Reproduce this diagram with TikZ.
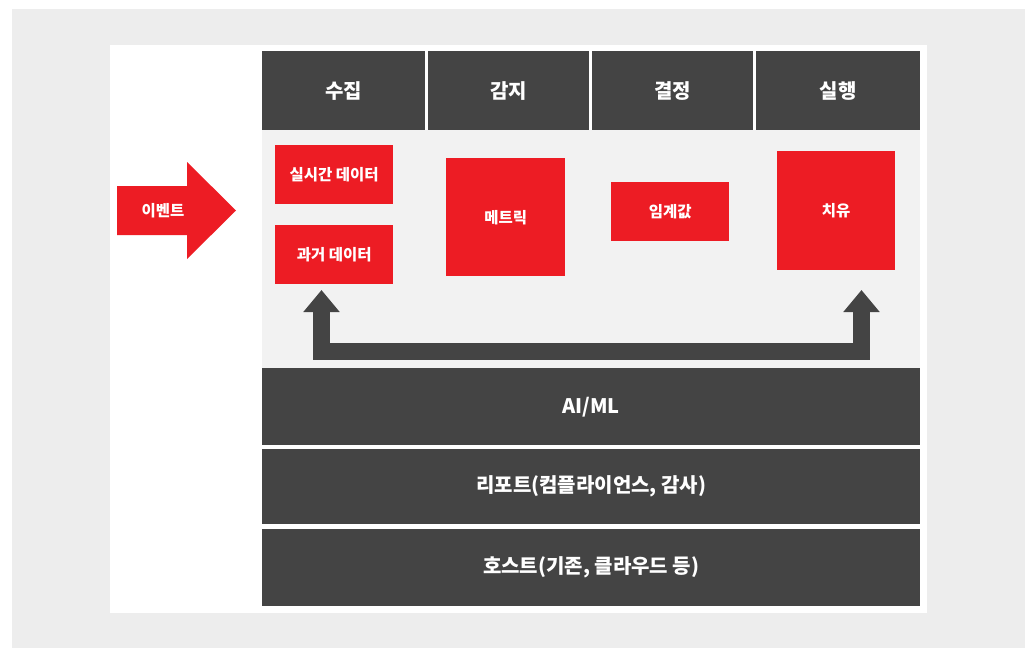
\documentclass[tikz,border=0pt]{standalone}
\usepackage{fontspec}
\setmainfont{Noto Sans CJK KR}
\usetikzlibrary{arrows.meta}
\definecolor{dark}{HTML}{444444}
\definecolor{brand}{HTML}{ED1C24}
\definecolor{outer}{HTML}{EDEDED}
\definecolor{pane}{HTML}{F2F2F2}
\tikzset{
  darkbox/.style={fill=dark,draw=none,text=white,font=\bfseries\fontsize{20}{22}\selectfont,inner sep=0,anchor=north west},
  headbox/.style={darkbox,font=\bfseries\fontsize{20}{22}\selectfont},
  redbox/.style={fill=brand,draw=none,text=white,font=\bfseries\fontsize{15.5}{18}\selectfont,inner sep=0,anchor=north west},
}
\begin{document}
\begin{tikzpicture}[x=1pt,y=-1pt]
\useasboundingbox (0,0) rectangle (1031,648);
\fill[white] (0,0) rectangle (1031,648);
\fill[outer] (12,9) rectangle (1025,648);
\fill[white] (110,45) rectangle (927,613);
\fill[pane] (262,130) rectangle (920,368);
% header
\node[headbox,minimum width=163pt,minimum height=79pt] (h1) at (262,51) {수집};
\node[headbox,minimum width=161pt,minimum height=79pt] (h2) at (428,51) {감지};
\node[headbox,minimum width=161pt,minimum height=79pt] (h3) at (592,51) {결정};
\node[headbox,minimum width=164pt,minimum height=79pt] (h4) at (756,51) {실행};
% red boxes
\node[redbox,minimum width=118pt,minimum height=59pt] (rt) at (275,145) {실시간 데이터};
\node[redbox,minimum width=118pt,minimum height=59pt] (past) at (275,225) {과거 데이터};
\node[redbox,minimum width=119pt,minimum height=118pt] (met) at (446,158) {메트릭};
\node[redbox,minimum width=118pt,minimum height=59pt] (thr) at (611,182) {임계값};
\node[redbox,minimum width=118pt,minimum height=119pt] (heal) at (777,151) {치유};
% event arrow
\fill[brand] (117,186) -- (187,186) -- (187,162) -- (236,210.5) -- (187,259) -- (187,235) -- (117,235) -- cycle;
\node[text=white,font=\bfseries\fontsize{15.5}{18}\selectfont,inner sep=0] (ev) at (163,211) {이벤트};
% U arrow
\coordinate (a1) at (321.5,290);
\coordinate (a2) at (861.5,290);
\coordinate (u1) at (321.5,351);
\draw[dark,line width=17pt,line join=miter,{Triangle[width=35pt,length=22pt]}-{Triangle[width=35pt,length=22pt]}]
  (a1) -- (u1) -| (a2);
% bottom bars
\node[darkbox,minimum width=658pt,minimum height=77pt] (ai) at (262,368) {AI/ML};
\node[darkbox,minimum width=658pt,minimum height=75pt] (rep) at (262,449) {리포트(컴플라이언스, 감사)};
\node[darkbox,minimum width=658pt,minimum height=77pt] (host) at (262,529) {호스트(기존, 클라우드 등)};
\end{tikzpicture}
\end{document}
